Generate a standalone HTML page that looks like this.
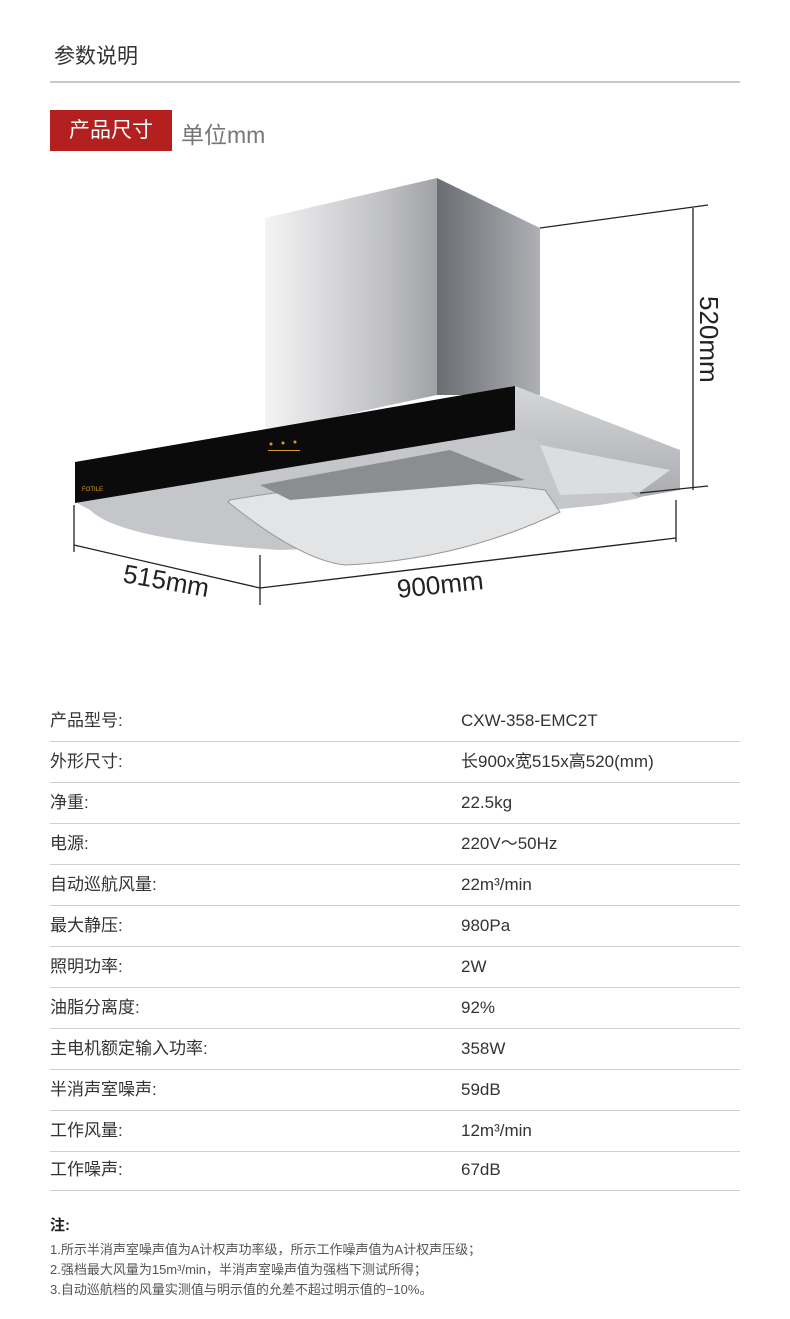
<!DOCTYPE html>
<html><head><meta charset="utf-8"><style>
body{margin:0;background:#fff;width:790px;height:1319px;position:relative;overflow:hidden;font-family:"Liberation Sans","Noto Sans CJK SC",sans-serif;color:#333}
.a{position:absolute;white-space:nowrap}
.row{position:absolute;left:50px;width:690px;height:41px;border-bottom:1px solid #cfcfcf;font-size:17px;line-height:41px}
.row span{position:absolute;left:411px}
</style></head><body>
<div class="a" style="left:54px;top:40px;font-size:21px;color:#333">参数说明</div>
<div class="a" style="left:50px;top:81px;width:690px;height:2px;background:#c8c8c8"></div>
<div class="a" style="left:50px;top:110px;width:122px;height:41px;background:#b3201f;color:#fff;font-size:21px;line-height:41px;text-align:center">产品尺寸</div>
<div class="a" style="left:181px;top:116px;font-size:23px;color:#777">单位mm</div>

<svg class="a" style="left:0;top:0" width="790" height="650">
<defs>
<linearGradient id="ch" x1="0" x2="1"><stop offset="0" stop-color="#f4f4f5"/><stop offset="0.7" stop-color="#bfc0c3"/><stop offset="1" stop-color="#9fa1a5"/></linearGradient>
<linearGradient id="cs" x1="0" x2="1"><stop offset="0" stop-color="#6a6d72"/><stop offset="1" stop-color="#aeb0b4"/></linearGradient>
<linearGradient id="sv" x1="0" y1="0" x2="0" y2="1"><stop offset="0" stop-color="#d6d7d9"/><stop offset="1" stop-color="#a9abaf"/></linearGradient>
</defs>
<polygon points="265,218 437,178 437,395 265,432" fill="url(#ch)"/>
<polygon points="437,178 540,228 540,395 437,395" fill="url(#cs)"/>
<!-- right side silver body -->
<polygon points="515,386 680,450 680,490 640,497 560,500 515,430" fill="url(#sv)"/>
<!-- lower tray -->
<path d="M75,502 L515,428 L640,498 L600,505 L450,520 L330,548 L280,550 Q120,540 90,510 Z" fill="#c5c6c9"/>
<path d="M230,500 Q400,470 545,490 L560,512 Q460,560 345,565 Q300,560 228,502 Z" fill="#e3e4e6" stroke="#999" stroke-width="1"/>
<path d="M260,485 L450,450 L525,480 L290,500 Z" fill="#8c8d90"/>
<path d="M540,445 L670,470 L640,492 L560,495 Z" fill="#dcdde0"/>
<!-- black panel -->
<polygon points="75,462 515,386 515,430 75,503" fill="#0b0b0c"/>
<text x="82" y="491" font-size="6" fill="#e0a020" font-family="Liberation Sans">FOTILE</text>
<g fill="#d89b2a"><circle cx="271" cy="444" r="1.5"/><circle cx="283" cy="443" r="1.5"/><circle cx="295" cy="442" r="1.5"/><rect x="268" y="450" width="32" height="1"/></g>
<!-- dimension lines -->
<g stroke="#222" stroke-width="1.3" fill="none">
<line x1="540" y1="228" x2="708" y2="205"/>
<line x1="693" y1="208" x2="693" y2="490"/>
<line x1="640" y1="493" x2="708" y2="486"/>
<line x1="74" y1="505" x2="74" y2="552"/>
<line x1="260" y1="555" x2="260" y2="605"/>
<line x1="676" y1="500" x2="676" y2="542"/>
<line x1="74" y1="545" x2="260" y2="588"/>
<line x1="260" y1="588" x2="676" y2="538"/>
</g>
<text x="0" y="0" font-size="26" fill="#222" font-family="Liberation Sans" transform="translate(700,296) rotate(90)">520mm</text>
<text x="0" y="0" font-size="26" fill="#222" font-family="Liberation Sans" transform="translate(122,582) rotate(10)">515mm</text>
<text x="0" y="0" font-size="26" fill="#222" font-family="Liberation Sans" transform="translate(398,598) rotate(-6)">900mm</text>
</svg>

<div class="row" style="top:700px">产品型号:<span>CXW-358-EMC2T</span></div>
<div class="row" style="top:741px">外形尺寸:<span>长900x宽515x高520(mm)</span></div>
<div class="row" style="top:782px">净重:<span>22.5kg</span></div>
<div class="row" style="top:823px">电源:<span>220V～50Hz</span></div>
<div class="row" style="top:864px">自动巡航风量:<span>22m³/min</span></div>
<div class="row" style="top:905px">最大静压:<span>980Pa</span></div>
<div class="row" style="top:946px">照明功率:<span>2W</span></div>
<div class="row" style="top:987px">油脂分离度:<span>92%</span></div>
<div class="row" style="top:1028px">主电机额定输入功率:<span>358W</span></div>
<div class="row" style="top:1069px">半消声室噪声:<span>59dB</span></div>
<div class="row" style="top:1110px">工作风量:<span>12m³/min</span></div>
<div class="row" style="top:1149px">工作噪声:<span>67dB</span></div>

<div class="a" style="left:50px;top:1214px;font-size:15px;font-weight:bold;color:#222">注:</div>
<div class="a" style="left:50px;top:1240px;font-size:13px;line-height:20px;color:#555">1.所示半消声室噪声值为A计权声功率级，所示工作噪声值为A计权声压级；<br>2.强档最大风量为15m³/min，半消声室噪声值为强档下测试所得；<br>3.自动巡航档的风量实测值与明示值的允差不超过明示值的−10%。</div>
</body></html>
